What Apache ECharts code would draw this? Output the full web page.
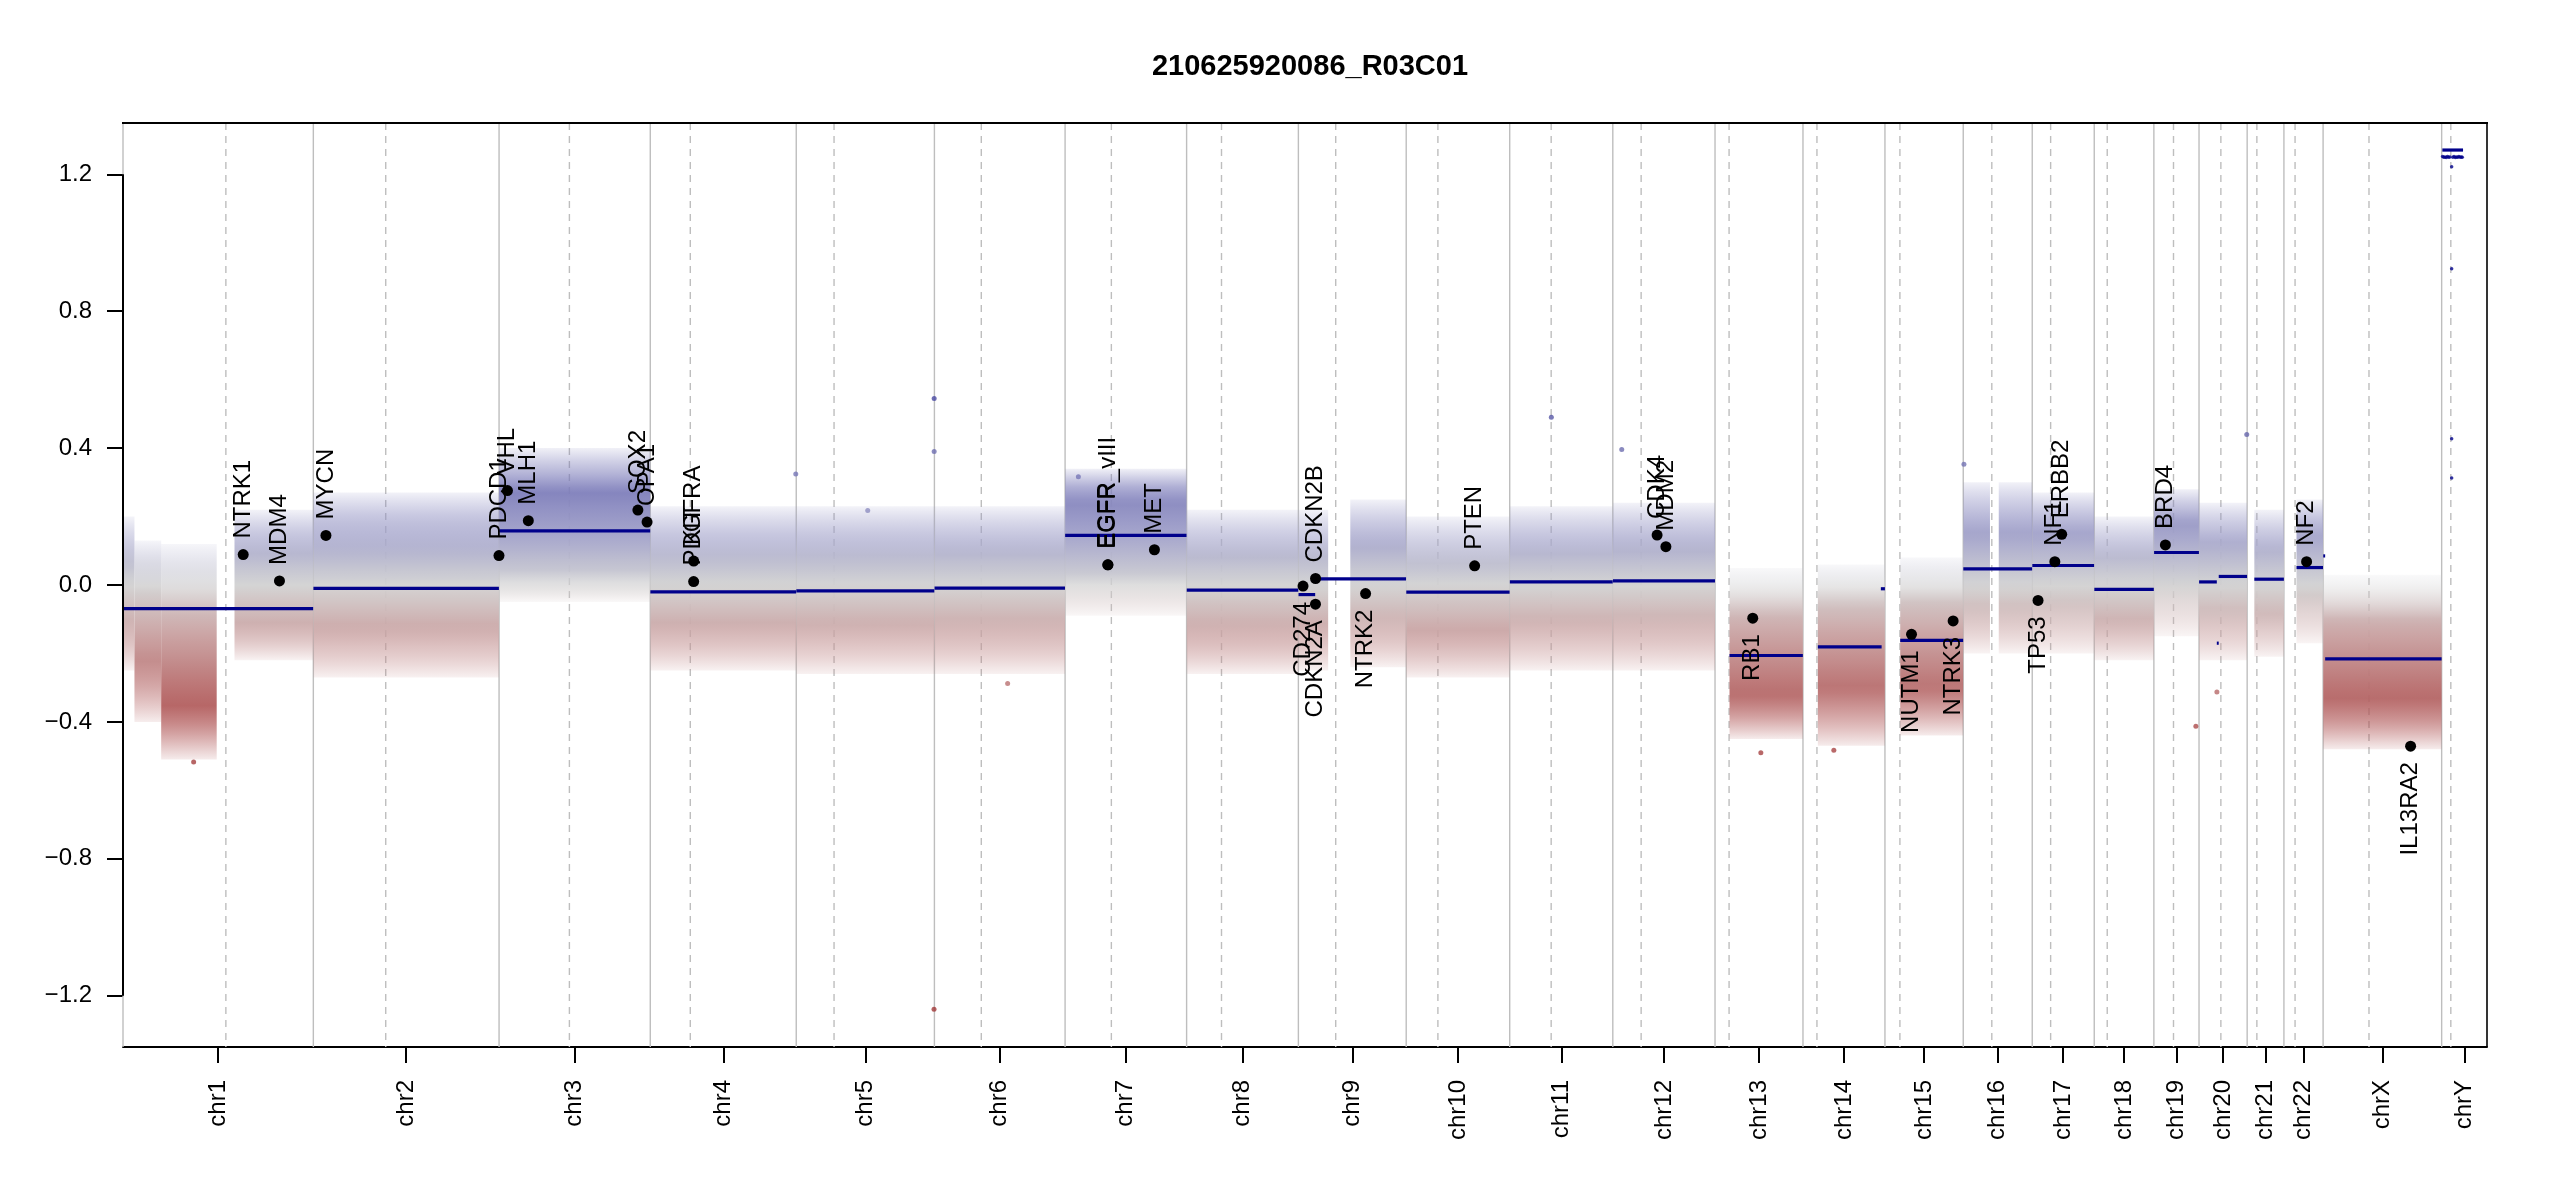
<!DOCTYPE html>
<html><head><meta charset="utf-8">
<script src="https://cdn.jsdelivr.net/npm/echarts@6/dist/echarts.min.js"></script>
<style>html,body{margin:0;padding:0;background:#fff}#c{width:2550px;height:1200px}</style>
</head><body><div id="c"></div>
<script>
// ---------------- data ----------------
const titleText = '210625920086_R03C01';
const chrNames = ['chr1','chr2','chr3','chr4','chr5','chr6','chr7','chr8','chr9','chr10','chr11','chr12','chr13','chr14','chr15','chr16','chr17','chr18','chr19','chr20','chr21','chr22','chrX','chrY'];
const chrLengthMb = [249.25,243.20,198.02,191.15,180.92,171.12,159.14,146.36,141.21,135.53,135.01,133.85,115.17,107.35,102.53,90.35,81.20,78.08,59.13,63.03,48.13,51.30,155.27,59.37];
const centromereMb = [134.7,94.8,92.1,52.4,49.5,61.4,60.6,45.7,48.9,41.5,54.3,37.1,18.4,18.3,19.6,37.4,24.1,17.0,25.7,28.6,12.7,14.6,60.1,12.0];
const yTicks = [-1.2,-0.8,-0.4,0,0.4,0.8,1.2];

// segments (dark blue lines)
const segChr   = ['chr1','chr2','chr3','chr4','chr5','chr6','chr7','chr8','chr9','chr9','chr10','chr11','chr12','chr13','chr14','chr14','chr15','chr16','chr17','chr18','chr19','chr20','chr20','chr20','chr21','chr22','chrX','chrX','chrY'];
const segStartMb = [0.8,0.1,0.1,0.1,0.1,0.2,0.1,0.2,0.2,22.0,0.1,0.2,0.2,19.0,19.5,102.0,20.0,0.1,0.1,0.1,0.3,0.1,23.3,25.8,9.4,16.5,0.2,2.7,0.9];
const segEndMb   = [249.0,243.0,197.9,191.0,180.8,171.0,159.0,146.2,22.0,141.0,135.4,134.9,133.8,115.0,103.0,107.3,102.4,90.2,81.0,78.0,59.0,23.3,25.8,62.9,48.1,51.2,2.7,155.2,28.0];
const segValue   = [-0.069,-0.010,0.158,-0.020,-0.017,-0.009,0.145,-0.015,-0.028,0.018,-0.021,0.009,0.012,-0.206,-0.181,-0.011,-0.162,0.047,0.057,-0.013,0.095,0.009,-0.170,0.025,0.017,0.051,0.085,-0.216,1.271];

// probe cloud envelopes (outer / middle / core ranges)
const bandChr     = ['chr1','chr1','chr1','chr1','chr2','chr3','chr4','chr5','chr6','chr7','chr8','chr9','chr9','chr10','chr11','chr12','chr13','chr14','chr15','chr16','chr16','chr17','chr18','chr19','chr20','chr21','chr22','chrX'];
const bandStartMb = [0.8,15,50,146,0.1,0.1,0.1,0.1,0.2,0.1,0.2,0.2,68,0.1,0.2,0.2,19.0,19.5,20.0,0.1,46.5,0.1,0.1,0.3,0.1,9.4,16.5,0.2];
const bandEndMb   = [15,50,122.7,249.0,243.0,197.9,191.0,180.8,171.0,159.0,146.2,39,141.0,135.4,134.9,133.8,115.0,107.2,102.4,35,90.2,81.0,78.0,59.0,62.9,48.1,51.2,155.2];
const outerLo = [-0.25,-0.40,-0.51,-0.22,-0.27,-0.05,-0.25,-0.26,-0.26,-0.09,-0.26,-0.25,-0.24,-0.27,-0.25,-0.25,-0.45,-0.47,-0.44,-0.20,-0.20,-0.20,-0.22,-0.15,-0.22,-0.21,-0.17,-0.48];
const outerHi = [0.20,0.13,0.12,0.22,0.27,0.40,0.23,0.23,0.23,0.34,0.22,0.22,0.25,0.20,0.23,0.24,0.05,0.06,0.08,0.30,0.30,0.27,0.20,0.28,0.24,0.22,0.25,0.03];
const midLo   = [-0.17,-0.30,-0.42,-0.16,-0.18,-0.01,-0.17,-0.17,-0.17,-0.02,-0.18,-0.17,-0.16,-0.19,-0.16,-0.16,-0.38,-0.37,-0.36,-0.12,-0.12,-0.11,-0.15,-0.05,-0.13,-0.13,-0.08,-0.40];
const midHi   = [0.12,0.06,0.03,0.15,0.19,0.32,0.15,0.15,0.15,0.29,0.14,0.14,0.17,0.12,0.15,0.16,-0.03,-0.01,0.00,0.21,0.21,0.20,0.13,0.22,0.17,0.15,0.19,-0.05];
const coreLo  = [-0.10,-0.22,-0.35,-0.11,-0.12,0.04,-0.11,-0.11,-0.10,0.03,-0.11,-0.11,-0.09,-0.13,-0.10,-0.09,-0.32,-0.30,-0.30,-0.06,-0.06,-0.05,-0.10,0.00,-0.07,-0.08,-0.03,-0.33];
const coreHi  = [0.06,-0.02,-0.08,0.09,0.10,0.27,0.08,0.08,0.09,0.24,0.08,0.08,0.11,0.06,0.09,0.10,-0.09,-0.06,-0.05,0.15,0.15,0.15,0.08,0.18,0.12,0.10,0.14,-0.10];

// single probes that stand out
const outlierChr   = ['chr5','chr5','chr4','chr5','chr5','chr6','chr7','chr14','chr11','chr12','chr16','chr20','chr20','chr19','chr1','chr13'];
const outlierPosMb = [180.6,180.6,190.5,93.6,180.4,95.9,17.4,40.4,54.5,11.7,0.9,62.5,23.4,55.0,92.5,60.0];
const outlierValue = [0.545,0.39,0.324,0.218,-1.24,-0.288,0.316,-0.483,0.49,0.396,0.353,0.44,-0.313,-0.413,-0.517,-0.49];

// chrY probe bins (dark blue)
const chrYBinPosMb = [1.2,2.8,4.4,6.0,7.6,9.2,10.8,14.6,16.2,17.8,19.4,21.0,22.6,24.2,25.8,27.0,13.1,13.1,13.1,13.1];
const chrYBinValue = [1.252,1.250,1.251,1.249,1.252,1.250,1.251,1.250,1.252,1.249,1.251,1.250,1.252,1.250,1.251,1.250,1.222,0.924,0.427,0.313];

// highlighted genes
const geneNames = ['NTRK1','MDM4','MYCN','PDCD1','VHL','MLH1','SOX2','OPA1','PDGFRA','KIT','EGFR','EGFR_vIII','MET','CD274','CDKN2A','CDKN2B','NTRK2','PTEN','CDK4','MDM2','RB1','NUTM1','NTRK3','TP53','NF1','ERBB2','BRD4','NF2','IL13RA2'];
const geneChr   = ['chr1','chr1','chr2','chr2','chr3','chr3','chr3','chr3','chr4','chr4','chr7','chr7','chr7','chr9','chr9','chr9','chr9','chr10','chr12','chr12','chr13','chr15','chr15','chr17','chr17','chr17','chr19','chr22','chrX'];
const genePosMb = [157.4,204.9,16.5,243.1,11.0,38.3,181.8,193.8,56.8,56.9,56.0,56.1,117.0,6.1,22.4,22.5,88.0,89.6,58.0,69.5,49.4,34.8,89.3,7.6,29.6,38.6,15.1,29.7,114.6];
const geneValue = [0.089,0.012,0.145,0.086,0.276,0.188,0.219,0.184,0.010,0.070,0.059,0.059,0.103,-0.003,-0.056,0.019,-0.025,0.056,0.146,0.112,-0.097,-0.144,-0.105,-0.045,0.068,0.148,0.117,0.068,-0.471];

// ---------------- helpers ----------------
const chrOffset = [];
let acc = 0;
chrLengthMb.forEach(l => { chrOffset.push(acc); acc += l; });
const genomeLen = acc;
const cum = (chr, mb) => chrOffset[chrNames.indexOf(chr)] + mb;
const chrMid = chrLengthMb.map((l, i) => chrOffset[i] + l / 2);
const Y_MIN = -1.35, Y_MAX = 1.35;
const FONT = '"Liberation Sans", Arial, Helvetica, sans-serif';

const colorVals = [1.0, 0.6, 0.42, 0.28, 0.14, 0.0, -0.14, -0.28, -0.42, -0.6];
const colorHex  = ['#00008b','#3a3a9c','#6a6aad','#7c7cba','#a3a3ca','#d2d2d2','#c9a2a2','#ba7373','#aa4949','#a03838'];
function hex2rgb(h){return [parseInt(h.slice(1,3),16),parseInt(h.slice(3,5),16),parseInt(h.slice(5,7),16)];}
function rgbFor(v){
  if (v >= colorVals[0]) return hex2rgb(colorHex[0]);
  for (let i = 0; i < colorVals.length - 1; i++) {
    const a = colorVals[i], b = colorVals[i+1];
    if (v <= a && v >= b) {
      const t = (a - v) / (a - b);
      const c1 = hex2rgb(colorHex[i]), c2 = hex2rgb(colorHex[i+1]);
      return c1.map((x, k) => Math.round(x + (c2[k] - x) * t));
    }
  }
  return hex2rgb(colorHex[colorHex.length - 1]);
}
const colorFor = v => 'rgb(' + rgbFor(v).join(',') + ')';

// vertical guide lines
const vlineData = [];
chrOffset.forEach(o => vlineData.push([o, 0]));
centromereMb.forEach((c, i) => vlineData.push([chrOffset[i] + c, 1]));

// band regions: [start, end, outerLo, outerHi, index]
const bandData = bandChr.map((c, i) => [cum(c, bandStartMb[i]), cum(c, bandEndMb[i]), outerLo[i], outerHi[i], i]);

const segData = segChr.map((c, i) => [cum(c, segStartMb[i]), cum(c, segEndMb[i]), segValue[i]]);
const outlierData = outlierChr.map((c, i) => ({value: [cum(c, outlierPosMb[i]), outlierValue[i]], itemStyle: {color: colorFor(outlierValue[i])}}));
const chrYData = chrYBinPosMb.map((p, i) => [cum('chrY', p), chrYBinValue[i]]);
const geneData = geneChr.map((c, i) => [cum(c, genePosMb[i]), geneValue[i]]);

// density (opacity) profile of the probe cloud at the envelope levels
const A_OUT = 0.10, A_MID = 0.58, A_CORE = 0.95;
function bandGradient(i, yTop, yBot) {
  const hi = outerHi[i], lo = outerLo[i];
  const knots = [[hi, A_OUT], [midHi[i], A_MID], [coreHi[i], A_CORE], [coreLo[i], A_CORE], [midLo[i], A_MID], [lo, A_OUT]];
  const alphaAt = v => {
    for (let k = 0; k < knots.length - 1; k++) {
      const [va, aa] = knots[k], [vb, ab] = knots[k+1];
      if (v <= va && v >= vb) return va === vb ? aa : aa + (ab - aa) * (va - v) / (va - vb);
    }
    return A_OUT;
  };
  const stops = [];
  const N = 24;
  for (let k = 0; k <= N; k++) {
    const v = hi - (hi - lo) * k / N;
    const c = rgbFor(v);
    stops.push({offset: k / N, color: 'rgba(' + c.join(',') + ',' + alphaAt(v).toFixed(3) + ')'});
  }
  return new echarts.graphic.LinearGradient(0, yTop, 0, yBot, stops, true);
}

// ---------------- chart ----------------
const chart = echarts.init(document.getElementById('c'), null, {renderer: 'canvas'});
const option = {
  animation: false,
  backgroundColor: '#ffffff',
  title: {
    text: titleText, left: 1305, top: 47, textAlign: 'center',
    textStyle: {fontFamily: FONT, fontSize: 29, fontWeight: 'bold', color: '#000'}
  },
  grid: {left: 123, top: 123, width: 2364, height: 924},
  xAxis: {
    type: 'value', min: 0, max: genomeLen,
    axisLine: {show: true, onZero: false, lineStyle: {color: '#000', width: 2}},
    axisTick: {show: true, customValues: chrMid, length: 16, lineStyle: {color: '#000', width: 2}},
    axisLabel: {
      show: true, customValues: chrMid, rotate: 90, margin: 33,
      fontFamily: FONT, fontSize: 24, color: '#000',
      formatter: v => { let best = 0, d = Infinity; chrMid.forEach((m, i) => { if (Math.abs(m - v) < d) { d = Math.abs(m - v); best = i; } }); return chrNames[best]; }
    },
    splitLine: {show: false}
  },
  yAxis: {
    type: 'value', min: Y_MIN, max: Y_MAX,
    axisLine: {show: false},
    axisTick: {show: true, customValues: yTicks, length: 16, lineStyle: {color: '#000', width: 2}},
    axisLabel: {
      show: true, customValues: yTicks, margin: 31,
      fontFamily: FONT, fontSize: 24, color: '#000',
      formatter: v => (v < -1e-9 ? '\u2212' : '') + Math.abs(v).toFixed(1)
    },
    splitLine: {show: false}
  },
  series: [
    {
      type: 'custom', name: 'guides', z: 1, silent: true,
      data: vlineData,
      renderItem: (params, api) => {
        const x = api.value(0), t = api.value(1);
        const p1 = api.coord([x, Y_MAX]), p2 = api.coord([x, Y_MIN]);
        return {type: 'line', shape: {x1: p1[0], y1: p1[1], x2: p2[0], y2: p2[1]},
          style: {stroke: '#bebebe', lineWidth: 1.4, lineDash: t ? [7, 6] : null}};
      }
    },
    {
      type: 'custom', name: 'probes', z: 2, silent: true,
      data: bandData,
      encode: {x: [0, 1], y: [2, 3]},
      renderItem: (params, api) => {
        const a = api.coord([api.value(0), api.value(3)]);
        const b = api.coord([api.value(1), api.value(2)]);
        const i = api.value(4);
        return {type: 'rect', shape: {x: a[0], y: a[1], width: b[0] - a[0], height: b[1] - a[1]},
          style: {fill: bandGradient(i, a[1], b[1])}};
      }
    },
    {
      type: 'scatter', name: 'outliers', z: 3, silent: true,
      symbolSize: 5, data: outlierData
    },
    {
      type: 'scatter', name: 'chrY', z: 3, silent: true,
      symbol: 'circle', symbolSize: 3.5, itemStyle: {color: '#00008b'}, data: chrYData
    },
    {
      type: 'custom', name: 'segments', z: 4, silent: true,
      data: segData, encode: {x: [0, 1], y: 2},
      renderItem: (params, api) => {
        const a = api.coord([api.value(0), api.value(2)]);
        const b = api.coord([api.value(1), api.value(2)]);
        return {type: 'line', shape: {x1: a[0], y1: a[1], x2: b[0], y2: b[1]},
          style: {stroke: '#00008b', lineWidth: 3.2}};
      }
    },
    {
      type: 'custom', name: 'genes', z: 5, silent: true,
      data: geneData, encode: {x: 0, y: 1},
      renderItem: (params, api) => {
        const p = api.coord([api.value(0), api.value(1)]);
        const v = api.value(1);
        const name = geneNames[params.dataIndex];
        const above = v >= 0;
        return {type: 'group', children: [
          {type: 'circle', shape: {cx: p[0], cy: p[1], r: 5.5}, style: {fill: '#000'}},
          {type: 'text', x: p[0], y: above ? p[1] - 16 : p[1] + 16, rotation: Math.PI / 2,
            style: {text: name, x: 0, y: 0, align: above ? 'left' : 'right', verticalAlign: 'middle',
              fontFamily: FONT, fontSize: 24, fill: '#000'}}
        ]};
      }
    },
    {
      type: 'custom', name: 'frame', z: 6, silent: true,
      data: [[0, 0]],
      renderItem: (params, api) => {
        const tl = api.coord([0, Y_MAX]), br = api.coord([genomeLen, Y_MIN]);
        const yt = api.coord([0, 1.2])[1], yb = api.coord([0, -1.2])[1];
        return {type: 'group', children: [
          {type: 'line', shape: {x1: tl[0] - 1, y1: tl[1], x2: br[0] + 1, y2: tl[1]}, style: {stroke: '#000', lineWidth: 2}},
          {type: 'line', shape: {x1: br[0], y1: tl[1], x2: br[0], y2: br[1]}, style: {stroke: '#000', lineWidth: 1.6}},
          {type: 'line', shape: {x1: tl[0], y1: yt, x2: tl[0], y2: yb}, style: {stroke: '#000', lineWidth: 2}}
        ]};
      }
    }
  ]
};
chart.setOption(option);
</script>
</body></html>
